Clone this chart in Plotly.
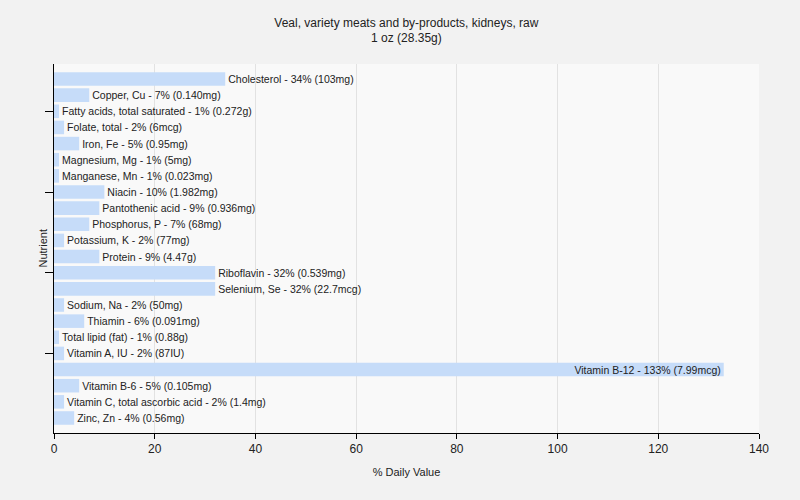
import plotly.graph_objects as go

nutrients = ["Cholesterol", "Copper, Cu", "Fatty acids, total saturated", "Folate, total",
             "Iron, Fe", "Magnesium, Mg", "Manganese, Mn", "Niacin", "Pantothenic acid",
             "Phosphorus, P", "Potassium, K", "Protein", "Riboflavin", "Selenium, Se",
             "Sodium, Na", "Thiamin", "Total lipid (fat)", "Vitamin A, IU", "Vitamin B-12",
             "Vitamin B-6", "Vitamin C, total ascorbic acid", "Zinc, Zn"]
pct = [34, 7, 1, 2, 5, 1, 1, 10, 9, 7, 2, 9, 32, 32, 2, 6, 1, 2, 133, 5, 2, 4]
amounts = ["103mg", "0.140mg", "0.272g", "6mcg", "0.95mg", "5mg", "0.023mg", "1.982mg",
           "0.936mg", "68mg", "77mg", "4.47g", "0.539mg", "22.7mcg", "50mg", "0.091mg",
           "0.88g", "87IU", "7.99mcg", "0.105mg", "1.4mg", "0.56mg"]
tick_nutrients = ["Fatty acids, total saturated", "Niacin", "Riboflavin", "Vitamin A, IU"]

labels = [f"{n} - {p}% ({a})" for n, p, a in zip(nutrients, pct, amounts)]
positions = ["inside" if p > 100 else "outside" for p in pct]

font_family = "Liberation Sans, Arial, sans-serif"
tf = dict(family=font_family, size=10.5, color="#222222")
fig = go.Figure(go.Bar(
    x=pct, y=nutrients, orientation="h",
    marker=dict(color="#c6dcf9", line=dict(width=0)),
    width=0.84,
    text=labels, textposition=positions, insidetextanchor="end",
    textangle=0, constraintext="none",
    textfont=tf, insidetextfont=tf, outsidetextfont=tf,
    cliponaxis=False, hoverinfo="skip",
))

fig.update_layout(
    width=800, height=500,
    margin=dict(l=54, r=41, t=64, b=67),
    paper_bgcolor="#f2f2f2", plot_bgcolor="#f9f9f9",
    font=dict(family=font_family, size=11, color="#222222"),
    title=dict(text="Veal, variety meats and by-products, kidneys, raw<br>1 oz (28.35g)",
               x=0.508, xanchor="center", y=0.947, yanchor="top",
               font=dict(family=font_family, size=12, color="#222222")),
    showlegend=False,
    annotations=[dict(text="Nutrient", xref="paper", yref="paper",
                      x=(42 - 54) / 705, y=0.5, xanchor="center", yanchor="middle",
                      textangle=-90, showarrow=False,
                      font=dict(family=font_family, size=11, color="#222222"))],
)
fig.update_xaxes(range=[0, 140], dtick=20, tick0=0, showline=True, linecolor="black",
                 linewidth=1, ticks="outside", ticklen=5, tickcolor="black",
                 showgrid=True, gridcolor="#e2e2e2", zeroline=False, automargin=False,
                 tickfont=dict(size=12),
                 title=dict(text="% Daily Value", font=dict(size=11), standoff=12))
fig.update_yaxes(type="category", categoryorder="array", categoryarray=nutrients,
                 range=[len(nutrients) - 1 + 0.93, -0.93], automargin=False,
                 showline=True, linecolor="black", linewidth=1,
                 tickmode="array", tickvals=tick_nutrients, ticktext=[""] * len(tick_nutrients),
                 ticks="outside", ticklen=8, tickcolor="black", showgrid=False)

fig.write_html("out.html", config={"displayModeBar": False},
               post_script="document.body.style.margin='0';document.body.style.background='#f2f2f2';")
